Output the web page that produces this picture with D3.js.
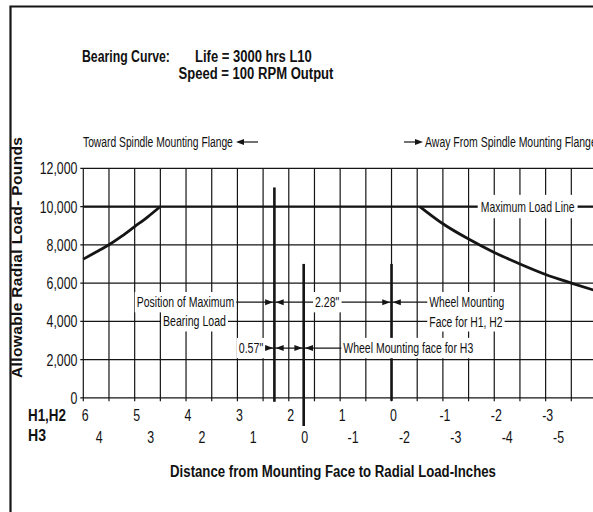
<!DOCTYPE html>
<html><head><meta charset="utf-8">
<script src="https://cdn.jsdelivr.net/npm/d3@7"></script>
<style>
html,body{margin:0;padding:0;background:#fff;overflow:hidden}
svg{display:block}
text{font-family:"Liberation Sans",Arial,Helvetica,sans-serif;fill:#111}
</style></head>
<body>
<svg id="c" width="593" height="512"></svg>
<script>
// ---- data ----
const h12Ticks = [6,5,4,3,2,1,0,-1,-2,-3,-4];
const h3Ticks = [4,3,2,1,0,-1,-2,-3,-4,-5];
const yTicks = [0,2000,4000,6000,8000,10000,12000];
const leftCurveH = [6,5.75,5.5,5.25,5,4.75,4.5];
const leftCurveL = [7250,7620,8000,8450,8950,9450,10000];
const rightCurveH = [-0.55,-1,-1.5,-2,-2.5,-3,-3.5,-3.95];
const rightCurveL = [10000,9100,8300,7600,7000,6450,6000,5620];
const maxLoad = 10000;
const maxBearingPos = 2.28;   // H1,H2 inches
const h3Offset = 0.57;        // H3 face relative to max bearing position
const h3Zero = maxBearingPos - h3Offset;

const svg = d3.select("#c");
const x = d3.scaleLinear().domain([6,-4]).range([83.3,597]);
const y = d3.scaleLinear().domain([0,12000]).range([397.8,168.3]);
const ink = "#151515";

// condensed text: horizontally scaled group
function txt(parent, str, xx, yy, o){
  o = o || {};
  const g = parent.append("g");
  const t = g.append("text").attr("x",0).attr("y",0)
    .attr("font-size",o.size||15).attr("font-weight",o.weight||"normal")
    .attr("text-anchor",o.anchor||"start").text(str);
  if(o.central) t.attr("dominant-baseline","central");
  const nat = t.node().getComputedTextLength();
  const k = o.width ? o.width/nat : (o.k||0.75);
  g.attr("transform",`translate(${xx},${yy}) scale(${k},1)`);
  return {g:g, t:t, k:k};
}

// frame
svg.append("path").attr("d","M10.5,520 V6.5 H600").attr("fill","none").attr("stroke",ink).attr("stroke-width",2.2);

// title
txt(svg,"Bearing Curve:",82,61.5,{weight:"bold",size:17,width:88});
txt(svg,"Life = 3000 hrs L10",195,61.5,{weight:"bold",size:17,width:117});
txt(svg,"Speed = 100 RPM Output",178.5,78.5,{weight:"bold",size:17,width:155});

// grid
const grid = svg.append("g").attr("stroke",ink).attr("stroke-width",1.2);
const gx = d3.range(0,21).map(i=>6-i*0.5);
grid.selectAll("line.v").data(gx).join("line")
  .attr("x1",d=>x(d)).attr("x2",d=>x(d)).attr("y1",y(12000)).attr("y2",y(0)+3.5);
grid.selectAll("line.h").data(yTicks).join("line")
  .attr("x1",x(6)-3).attr("x2",600).attr("y1",d=>y(d)).attr("y2",d=>y(d));
// max load line
svg.append("line").attr("x1",x(6)).attr("x2",600).attr("y1",y(maxLoad)).attr("y2",y(maxLoad))
  .attr("stroke",ink).attr("stroke-width",2.2);

// y tick labels
const yl = svg.append("g");
yTicks.forEach(d=>txt(yl,d3.format(",")(d),77.5,y(d)+6,{anchor:"end",size:16.5}));

// y title
svg.append("text").attr("transform",`translate(22,${257.5}) rotate(-90)`).attr("text-anchor","middle")
  .attr("font-weight","bold").attr("font-size",15.5).attr("textLength",241).attr("lengthAdjust","spacing")
  .text("Allowable Radial Load- Pounds");

// curves
const line = d3.line().x(d=>x(d[0])).y(d=>y(d[1])).curve(d3.curveMonotoneX);
svg.append("path").attr("d",line(leftCurveH.map((h,i)=>[h,leftCurveL[i]]).reverse()))
  .attr("fill","none").attr("stroke",ink).attr("stroke-width",2.8);
svg.append("path").attr("d",line(rightCurveH.map((h,i)=>[h,rightCurveL[i]])))
  .attr("fill","none").attr("stroke",ink).attr("stroke-width",2.8);

// thick position lines
const thick = svg.append("g").attr("stroke",ink).attr("stroke-width",2.6);
thick.append("line").attr("x1",x(maxBearingPos)).attr("x2",x(maxBearingPos)).attr("y1",y(11000)).attr("y2",y(0)+4);
thick.append("line").attr("x1",x(h3Zero)).attr("x2",x(h3Zero)).attr("y1",y(7000)).attr("y2",426);
thick.append("line").attr("x1",x(0)).attr("x2",x(0)).attr("y1",y(7000)).attr("y2",y(0)+3);

// leader lines
const lead = svg.append("g").attr("stroke",ink).attr("stroke-width",1.2);
lead.append("line").attr("x1",230).attr("x2",432).attr("y1",y(5000)).attr("y2",y(5000));
lead.append("line").attr("x1",258).attr("x2",346).attr("y1",y(2600)).attr("y2",y(2600));

// boxed labels
function boxed(str, xx, yy, w, padx, pady){
  const o = txt(svg,str,xx,yy,{size:15,width:w,central:true});
  const b = o.t.node().getBBox();
  o.g.insert("rect","text").attr("fill","#fff")
    .attr("x",b.x-padx/o.k).attr("y",b.y-pady)
    .attr("width",b.width+2*padx/o.k).attr("height",b.height+2*pady);
}
boxed("Maximum Load Line", 480.7, y(maxLoad), 94, 3, 3);
boxed("Position of Maximum", 136.7, y(5000), 97.6, 2, 1.5);
boxed("Bearing Load", 163, y(4000), 63, 2, 1.5);
boxed("0.57\"", 238.7, y(2600), 24.6, 2, 1.5);
boxed("2.28\"", 315, y(5000), 24.3, 2, 1.5);
boxed("Wheel Mounting", 429.3, y(5000), 75, 2, 1.5);
boxed("Face for H1, H2", 429.3, y(4000), 73.4, 2, 1.5);
boxed("Wheel Mounting face for H3", 343.3, y(2600), 130, 2, 1.5);

// arrowheads
function tri(tipX, tipY, dir){ // dir: +1 points right, -1 points left
  const L = 8, W = 3;
  svg.append("path").attr("d",`M${tipX},${tipY} L${tipX-dir*L},${tipY-W} L${tipX-dir*L},${tipY+W} Z`).attr("fill",ink);
}
[[x(maxBearingPos),y(5000)],[x(0),y(5000)],[x(maxBearingPos),y(2600)],[x(h3Zero),y(2600)]].forEach(([px,py])=>{
  tri(px-1.3,py,1); tri(px+1.3,py,-1);
});

// direction notes
txt(svg,"Toward Spindle Mounting Flange",83,142,{size:14.5,width:150,central:true});
svg.append("line").attr("x1",238).attr("x2",258).attr("y1",142).attr("y2",142).attr("stroke",ink).attr("stroke-width",1.2);
tri(236,142,-1);
txt(svg,"Away From Spindle Mounting Flange",425,142,{size:14.5,width:172,central:true});
svg.append("line").attr("x1",404).attr("x2",420).attr("y1",142).attr("y2",142).attr("stroke",ink).attr("stroke-width",1.2);
tri(423,142,1);

// x axis labels
txt(svg,"H1,H2",28,421,{weight:"bold",size:17,width:38});
txt(svg,"H3",28,441,{weight:"bold",size:17,width:18});
const xl = svg.append("g");
h12Ticks.forEach(d=>txt(xl,String(d),x(d)+2,421,{anchor:"middle",size:16.5}));
h3Ticks.forEach(d=>txt(xl,String(d),x(d+h3Zero)+(d<0?-2:1),443,{anchor:"middle",size:16.5}));

txt(svg,"Distance from Mounting Face to Radial Load-Inches",333,477,{anchor:"middle",weight:"bold",size:17,width:326});
</script>
</body></html>
